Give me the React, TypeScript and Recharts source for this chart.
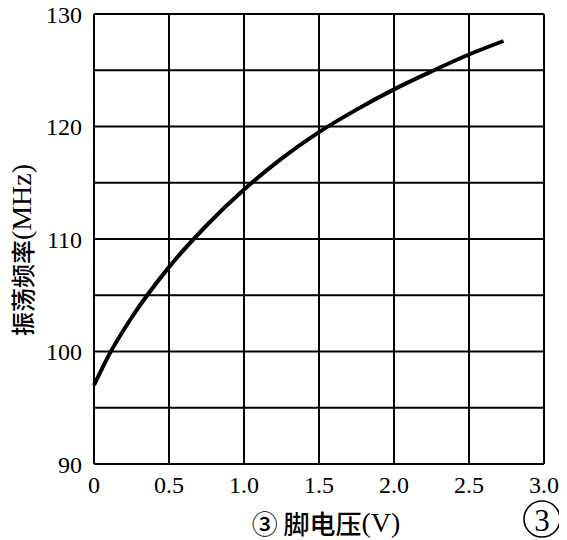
import React from "react";
import { LineChart, Line, XAxis, YAxis, CartesianGrid } from "recharts";

const voltage = [0, 0.1, 0.25, 0.5, 0.75, 1.0, 1.25, 1.5, 1.75, 2.0, 2.25, 2.5, 2.73];
const frequency = [97.0, 99.7, 103.0, 107.5, 111.2, 114.4, 117.15, 119.5, 121.5, 123.3, 124.9, 126.4, 127.6];
const xTicks = [0, 0.5, 1.0, 1.5, 2.0, 2.5, 3.0];
const yTicks = [90, 95, 100, 105, 110, 115, 120, 125, 130];
const yLabeled = [90, 100, 110, 120, 130];
const xLabelCn = "③ 脚电压";
const xLabelUnit = "(V)";
const yLabelCn = "振荡频率";
const yLabelUnit = "(MHz)";
const cornerMark = "3";

const data = voltage.map((v, i) => ({ v, f: frequency[i] }));

const serif = "'Liberation Serif', 'DejaVu Serif', serif";
const cjk = "'Noto Sans CJK SC', sans-serif";

const XLabel = () => (
  <g>
    <text x={326} y={522} textAnchor="middle" dominantBaseline="central" fontSize={26} fill="#000">
      <tspan fontFamily={cjk} fontWeight={500}>{xLabelCn}</tspan>
      <tspan fontFamily={serif} fontSize={28}>{xLabelUnit}</tspan>
    </text>
    <circle cx={542} cy={519} r={18} fill="none" stroke="#000" strokeWidth={1.6} />
    <text x={542} y={520} textAnchor="middle" dominantBaseline="central" fontFamily={serif} fontSize={31} fill="#000">
      {cornerMark}
    </text>
  </g>
);

const YLabel = () => (
  <text
    x={0}
    y={0}
    transform="translate(21,250) rotate(-90)"
    textAnchor="middle"
    dominantBaseline="central"
    fill="#000"
  >
    <tspan fontFamily={cjk} fontWeight={500} fontSize={24}>{yLabelCn}</tspan>
    <tspan fontFamily={serif} fontSize={28}>{yLabelUnit}</tspan>
  </text>
);

export default function App() {
  return (
    <div style={{ margin: "-8px 0 0 -8px", width: 567, height: 540 }}>
      <LineChart
        width={567}
        height={540}
        data={data}
        margin={{ top: 14, right: 23, bottom: 46, left: 0 }}
        style={{ background: "#fff" }}
      >
        <CartesianGrid stroke="#000" strokeWidth={2} fill="none" />
        <XAxis
          dataKey="v"
          type="number"
          domain={[0, 3]}
          ticks={xTicks}
          tickFormatter={(t: number) => (t === 0 ? "0" : t.toFixed(1))}
          height={30}
          tickSize={0}
          tickLine={false}
          tickMargin={12}
          axisLine={{ stroke: "#000", strokeWidth: 2 }}
          tick={{ fill: "#000", fontSize: 24, fontFamily: serif }}
          label={<XLabel />}
          interval={0}
        />
        <YAxis
          type="number"
          domain={[90, 130]}
          ticks={yTicks}
          tickFormatter={(t: number) => (yLabeled.includes(t) ? String(t) : "")}
          width={94}
          tickSize={0}
          tickLine={false}
          tickMargin={12}
          axisLine={{ stroke: "#000", strokeWidth: 2 }}
          tick={{ fill: "#000", fontSize: 24, fontFamily: serif }}
          label={<YLabel />}
          interval={0}
        />
        <Line
          dataKey="f"
          type="monotone"
          stroke="#000"
          strokeWidth={4}
          dot={false}
          isAnimationActive={false}
        />
      </LineChart>
    </div>
  );
}
